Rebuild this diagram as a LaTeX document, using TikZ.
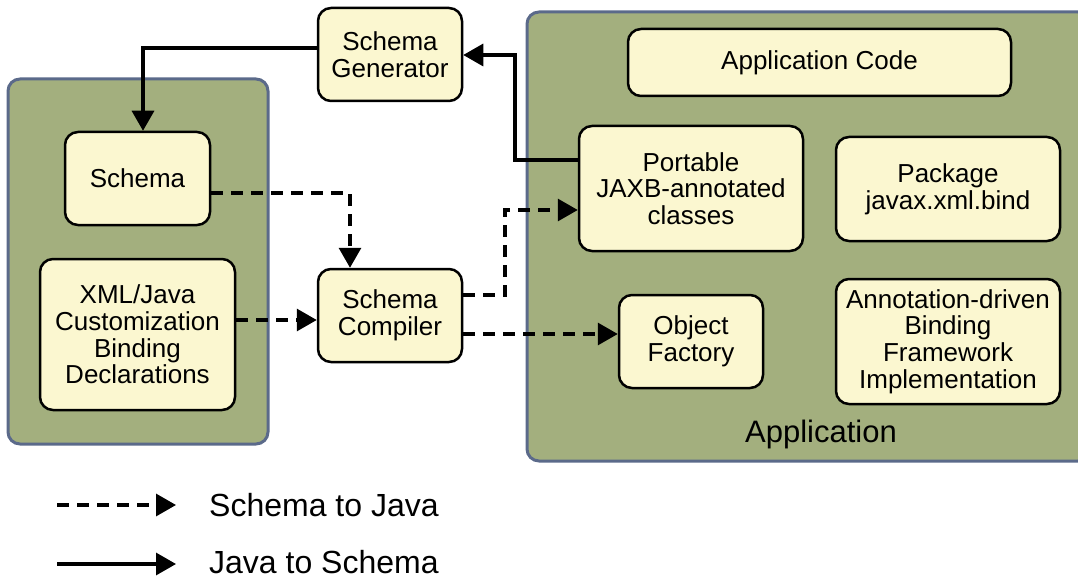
\documentclass[tikz,border=0pt]{standalone}
\usepackage{fontspec}
\setmainfont{Liberation Sans}
\usepackage{tikz}
\usetikzlibrary{arrows.meta, positioning}

\definecolor{appgreen}{HTML}{A3AF7E}
\definecolor{frameblue}{HTML}{5B6A8A}
\definecolor{boxyellow}{HTML}{FBF7D0}

\tikzset{
    container/.style={draw=frameblue, line width=3pt, fill=appgreen, rounded corners=12pt},
    block/.style={draw, line width=2.5pt, fill=boxyellow, rounded corners=13pt, align=center,
        inner sep=0pt, font=\fontsize{26}{26.7}\selectfont},
    flow/.style={line width=3.2pt, -{Triangle[length=20pt, width=22pt]}},
    gen/.style={flow, dash pattern=on 12pt off 8pt},
    legendtext/.style={anchor=west, inner sep=0pt, font=\fontsize{32}{33}\selectfont},
}

\begin{document}
\begin{tikzpicture}[x=1pt, y=-1pt]
        \useasboundingbox (0,0) rectangle (1078,580);

        % the two grey-green areas
        \draw[container] (8,79) rectangle (268,444);
        \draw[container] (527,12) rectangle (1090,461);
        \node[font=\fontsize{31}{32}\selectfont] (applabel) at (821,434) {Application};

        \node[block, minimum width=144pt, minimum height=93pt] at (390,54.5)  (gen) {Schema\\Generator};
        \node[block, minimum width=145pt, minimum height=93pt] at (137.5,178.5) (schema) {Schema};
        \node[block, minimum width=195pt, minimum height=151pt] at (137.5,334.5) (xjb) {XML/Java\\Customization\\Binding\\Declarations};
        \node[block, minimum width=144pt, minimum height=93pt] at (390,315.5) (comp) {Schema\\Compiler};

        \node[block, minimum width=383pt, minimum height=67pt] at (819.5,62.5)  (code) {Application Code};
        \node[block, minimum width=224pt, minimum height=125pt] at (691,188.5) (portable) {Portable\\JAXB-annotated\\classes};
        \node[block, minimum width=224pt, minimum height=104pt] at (948,189)   (pkg) {Package\\javax.xml.bind};
        \node[block, minimum width=144pt, minimum height=93pt] at (691,341.5) (factory) {Object\\Factory};
        \node[block, minimum width=224pt, minimum height=125pt] at (948,341.5) (impl) {Annotation-driven\\Binding\\Framework\\Implementation};

        % java to schema
        \draw[flow] (portable.west |- 0,160) -| (515,55) -- (gen.east |- 0,55);
        \draw[flow] (gen.west |- 0,48) -| (schema.north -| 143,0);

        % schema to java
        \draw[gen] (schema.east |- 0,193) -| (comp.north -| 350,0);
        \draw[gen] (xjb.east |- 0,320) -- (comp.west |- 0,320);
        \draw[gen] (comp.east |- 0,295) -| (505,210) -- (portable.west |- 0,210);
        \draw[gen] (comp.east |- 0,334) -- (factory.west |- 0,334);

        % legend
        \coordinate (d1) at (57,505);
        \coordinate (d2) at (176,505);
        \coordinate (s1) at (57,564);
        \coordinate (s2) at (176,564);
        \draw[gen] (d1) -- (d2);
        \draw[flow] (s1) -- (s2);
        \node[legendtext] (lgen) at (209,505) {Schema to Java};
        \node[legendtext] (lflow) at (209,562) {Java to Schema};
\end{tikzpicture}
\end{document}
